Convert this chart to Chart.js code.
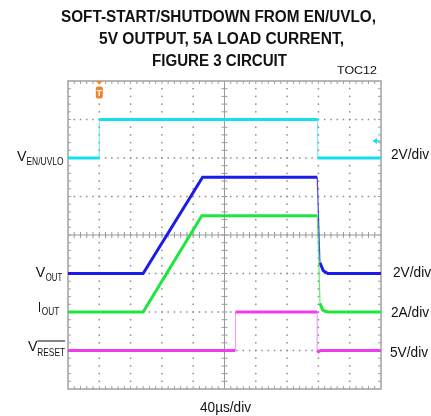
<!DOCTYPE html>
<html>
<head>
<meta charset="utf-8">
<script src="https://cdn.jsdelivr.net/npm/chart.js@4/dist/chart.umd.min.js"></script>
<style>
  html, body { margin: 0; padding: 0; background: #fff; }
  canvas { display: block; }
</style>
</head>
<body>
<canvas id="scope" width="431" height="416"></canvas>
<script>
// --- scope settings ---
const timePerDiv = 40;            // us/div
const xDivs = 10;
const yDivs = 8;

// --- EN/UVLO (2V/div) ---
const enTime  = [0, 40, 40, 319, 319, 400];
const enVolts = [0, 0, 2, 2, 0, 0];

// --- VOUT (2V/div) ---
const voutTime  = [0, 96, 172, 318.5, 322, 326.3, 332, 400];
const voutVolts = [0, 0, 5, 5, 0.56, 0.14, 0, 0];

// --- IOUT (2A/div) ---
const ioutTime = [0, 96, 171, 318.5, 320.4, 322, 325.5, 332, 400];
const ioutAmps = [0, 0, 5, 5, 2.87, 0.45, 0.1, 0, 0];

// --- RESET (5V/div) ---
const resetTime  = [0, 214, 214, 318.5, 318.5, 320, 323, 400];
const resetVolts = [0, 0, 5, 5, -0.25, -0.15, 0, 0];

const perDiv = [2, 2, 2, 5];
const units  = ['V', 'V', 'A', 'V'];

// where each channel's zero sits, in divisions from bottom of screen
const zeroDiv = [6, 3, 2, 1];

const colors    = ['#14dff0', '#1c1ce8', '#1ee63a', '#f03cf0'];
const edgeCols  = ['rgba(20,223,240,0.55)', 'rgba(28,28,232,0.8)', 'rgba(30,230,58,0.7)', 'rgba(240,60,240,0.5)'];

function toScreen(times, vals, ch) {
  return times.map((t, i) => ({ x: t, y: zeroDiv[ch] + vals[i] / perDiv[ch] }));
}

function steep(ctx) {
  const dx = Math.abs(ctx.p1.x - ctx.p0.x), dy = Math.abs(ctx.p1.y - ctx.p0.y);
  return dy > 3 * dx + 4;
}

function trace(times, vals, ch) {
  return {
    data: toScreen(times, vals, ch),
    borderColor: colors[ch],
    borderWidth: 3,
    pointRadius: 0,
    tension: 0,
    segment: {
      borderWidth: ctx => steep(ctx) ? 1.2 : undefined,
      borderColor: ctx => steep(ctx) ? edgeCols[ch] : undefined
    }
  };
}

// draw text squeezed/stretched to a given width
function fitText(ctx, text, x, y, font, w) {
  ctx.save();
  ctx.font = font;
  const m = ctx.measureText(text).width;
  ctx.translate(x, y);
  ctx.scale(w / m, 1);
  ctx.textAlign = 'left';
  ctx.textBaseline = 'alphabetic';
  ctx.fillText(text, 0, 0);
  ctx.restore();
}

const graticule = {
  id: 'graticule',
  beforeDatasetsDraw(chart) {
    const { ctx, chartArea: a, scales } = chart;
    const px = d => scales.x.getPixelForValue(d * timePerDiv);
    const py = d => scales.y.getPixelForValue(d);
    ctx.save();

    // dotted grid
    ctx.fillStyle = '#8c8c8c';
    for (let i = 1; i < xDivs; i++) {
      if (i === xDivs / 2) continue;
      for (let k = 1; k < yDivs * 5; k++) ctx.fillRect(px(i) - 0.75, py(k / 5) - 0.75, 1.5, 1.5);
    }
    for (let j = 1; j < yDivs; j++) {
      if (j === yDivs / 2) continue;
      for (let k = 1; k < xDivs * 5; k++) ctx.fillRect(px(k / 5) - 0.75, py(j) - 0.75, 1.5, 1.5);
    }

    // centre cross with minor ticks
    ctx.strokeStyle = '#9a9a9a';
    ctx.lineWidth = 1;
    const cx = px(xDivs / 2), cy = py(yDivs / 2);
    ctx.beginPath();
    ctx.moveTo(cx, a.top); ctx.lineTo(cx, a.bottom);
    ctx.moveTo(a.left, cy); ctx.lineTo(a.right, cy);
    for (let k = 1; k < xDivs * 5; k++) { const x = px(k / 5); ctx.moveTo(x, cy - 3); ctx.lineTo(x, cy + 3); }
    for (let k = 1; k < yDivs * 5; k++) { const y = py(k / 5); ctx.moveTo(cx - 3, y); ctx.lineTo(cx + 3, y); }
    ctx.stroke();

    // frame with inward ticks
    ctx.strokeStyle = '#a0a0a0';
    ctx.lineWidth = 1.5;
    ctx.strokeRect(a.left, a.top, a.right - a.left, a.bottom - a.top);
    ctx.lineWidth = 1;
    ctx.beginPath();
    for (let k = 1; k < xDivs * 5; k++) {
      const x = px(k / 5);
      ctx.moveTo(x, a.top); ctx.lineTo(x, a.top + 3);
      ctx.moveTo(x, a.bottom); ctx.lineTo(x, a.bottom - 3);
    }
    for (let k = 1; k < yDivs * 5; k++) {
      const y = py(k / 5);
      ctx.moveTo(a.left, y); ctx.lineTo(a.left + 3, y);
      ctx.moveTo(a.right, y); ctx.lineTo(a.right - 3, y);
    }
    ctx.stroke();
    ctx.restore();
  }
};

const labels = {
  id: 'labels',
  afterDraw(chart) {
    const { ctx, scales } = chart;
    ctx.save();
    ctx.fillStyle = '#111';

    // title
    const tf = 'bold 16px "Liberation Sans", Arial, sans-serif';
    fitText(ctx, 'SOFT-START/SHUTDOWN FROM EN/UVLO,', 61, 21.5, tf, 315);
    fitText(ctx, '5V OUTPUT, 5A LOAD CURRENT,', 99, 43.5, tf, 245);
    fitText(ctx, 'FIGURE 3 CIRCUIT', 152, 65.5, tf, 135);
    fitText(ctx, 'TOC12', 337, 74, '11px "Liberation Sans", Arial, sans-serif', 40);

    // channel names
    const big = '15px "Liberation Sans", Arial, sans-serif';
    const sub = '11.5px "Liberation Sans", Arial, sans-serif';
    fitText(ctx, 'V', 17, 161, big, 9.5);
    fitText(ctx, 'EN/UVLO', 26.5, 164.5, sub, 37);
    fitText(ctx, 'V', 35.7, 277.3, big, 9.5);
    fitText(ctx, 'OUT', 45.7, 281, sub, 16.5);
    fitText(ctx, 'I', 38, 311.7, big, 3);
    fitText(ctx, 'OUT', 41.7, 315.3, sub, 17.5);
    fitText(ctx, 'V', 28, 351, big, 9.5);
    fitText(ctx, 'RESET', 37.3, 355.8, sub, 27.7);
    ctx.fillRect(37.3, 340.5, 27.7, 1);

    // per-division labels on the right
    const rf = '14px "Liberation Sans", Arial, sans-serif';
    const rx = [391, 393, 391, 390];
    const ry = [158.5, 276.5, 317, 357];
    perDiv.forEach((p, i) => fitText(ctx, `${p}${units[i]}/div`, rx[i], ry[i], rf, 38));

    // time base
    fitText(ctx, `${timePerDiv}\u00b5s/div`, 200, 411.5, rf, 51);

    // trigger marker (orange T)
    const tx = scales.x.getPixelForValue(enTime[1]);
    ctx.fillStyle = '#f0862a';
    ctx.beginPath();
    ctx.moveTo(tx - 3.5, 81); ctx.lineTo(tx + 3.5, 81); ctx.lineTo(tx, 84.5); ctx.closePath();
    ctx.fill();
    ctx.beginPath();
    ctx.roundRect(tx - 3.5, 86.5, 7, 12, 2);
    ctx.fill();
    ctx.fillStyle = '#fff';
    ctx.font = 'bold 9px "Liberation Sans", Arial, sans-serif';
    ctx.textAlign = 'center';
    ctx.fillText('T', tx, 96);

    // channel 1 marker on the right edge
    ctx.fillStyle = colors[0];
    ctx.beginPath();
    ctx.moveTo(372.5, 141); ctx.lineTo(377, 138); ctx.lineTo(377, 144); ctx.closePath();
    ctx.fill();
    ctx.fillRect(377, 140.3, 3, 1.4);
    ctx.restore();
  }
};

new Chart(document.getElementById('scope'), {
  type: 'line',
  data: {
    datasets: [
      trace(enTime, enVolts, 0),
      trace(resetTime, resetVolts, 3),
      trace(ioutTime, ioutAmps, 2),
      trace(voutTime, voutVolts, 1)
    ]
  },
  options: {
    responsive: false,
    animation: false,
    devicePixelRatio: 1,
    layout: { padding: { left: 68, right: 50, top: 81, bottom: 27 } },
    scales: {
      x: { type: 'linear', min: 0, max: xDivs * timePerDiv, display: false },
      y: { type: 'linear', min: 0, max: yDivs, display: false }
    },
    plugins: { legend: { display: false }, tooltip: { enabled: false } }
  },
  plugins: [graticule, labels]
});
</script>
</body>
</html>
